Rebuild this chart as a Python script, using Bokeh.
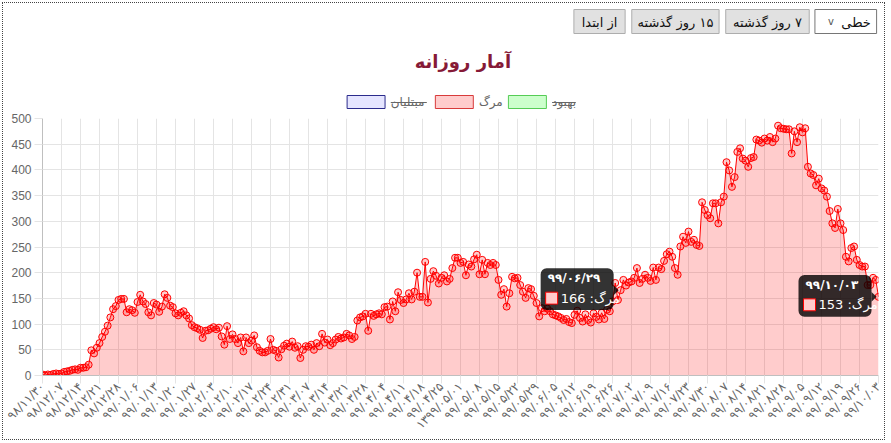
import math
from bokeh.plotting import figure
from bokeh.layouts import column
from bokeh.models import Range1d, FixedTicker, SingleIntervalTicker
from bokeh.core.properties import value
from bokeh.embed import file_html
from bokeh.resources import INLINE

# ---------------- data ----------------
deaths = [
    2, 0, 2, 1, 3, 4, 3, 4, 7, 8, 9, 11, 12, 11, 15, 15, 16, 21,
    49, 43, 54, 63, 75, 85, 97, 113, 129, 135, 147, 149, 149, 123, 129, 127,
    122, 143, 157, 144, 139, 123, 117, 141, 138, 124, 134, 158,
    151, 136, 133, 121, 117, 122, 125, 117, 111, 98, 94, 92, 89, 73, 87, 88,
    91, 94, 90, 93, 76, 60, 96, 71, 80, 71, 63, 74, 47, 74, 63, 68, 78, 55,
    48, 45, 45, 48, 71, 50, 48,
    35, 51, 58, 62, 56, 66, 54, 57, 34, 50, 57, 56, 60, 50, 63, 57, 81, 64,
    70, 59, 63, 70, 75, 72, 74,
    81, 78, 71, 75, 107, 113, 115, 120, 87, 120, 116, 119, 121, 119, 133, 134,
    109, 144, 125, 162, 147, 141, 148, 160, 148, 163, 200, 153, 153, 221,
    142, 188, 203, 194, 179, 190, 195, 183, 188, 209, 229, 229, 219, 221, 195,
    216, 212, 226, 235, 197, 225, 197, 219, 215, 219, 215, 186, 157, 168,
    134, 160, 192, 189, 190, 176, 163, 151, 170, 168, 155, 141, 115, 131, 125,
    130, 125, 119, 117, 115, 112, 108, 110, 104, 102,
    118, 126, 112, 105, 119, 108, 103, 121, 114, 109, 122, 110, 128, 125, 144,
    180, 147, 166,
    186, 175, 181, 183, 190, 209, 180, 188, 196, 190, 184, 210, 186, 210, 207,
    223, 236, 241, 231, 209, 196, 251,
    270, 258, 280, 260, 264, 254, 252, 337, 322, 312, 306, 335, 335, 296, 337,
    348, 415, 399, 367, 386, 435, 442, 422, 418, 406, 423, 425, 459, 457, 453,
    461, 457, 464, 454, 461, 486, 481, 480, 479, 479, 432, 475, 454, 483, 473,
    481, 406, 393, 390, 370, 383, 364, 360, 348, 320, 296, 287, 324, 296, 283,
    231, 222, 248, 251, 225, 215, 212, 212, 176, 176, 190, 186, 153,
]

tick_labels = [
    "۹۸/۱۱/۳۰", "۹۸/۱۲/۰۷", "۹۸/۱۲/۱۴", "۹۸/۱۲/۲۱", "۹۸/۱۲/۲۸",
    "۹۹/۰۱/۰۶", "۹۹/۰۱/۱۳", "۹۹/۰۱/۲۰", "۹۹/۰۱/۲۷", "۹۹/۰۲/۰۳",
    "۹۹/۰۲/۱۰", "۹۹/۰۲/۱۷", "۹۹/۰۲/۲۴", "۹۹/۰۲/۳۱", "۹۹/۰۳/۰۷",
    "۹۹/۰۳/۱۴", "۹۹/۰۳/۲۱", "۹۹/۰۳/۲۸", "۹۹/۰۴/۰۴", "۹۹/۰۴/۱۱",
    "۹۹/۰۴/۱۸", "۹۹/۰۴/۲۵", "۱۳۹۹/۰۵/۰۱", "۹۹/۰۵/۰۸", "۹۹/۰۵/۱۵",
    "۹۹/۰۵/۲۲", "۹۹/۰۵/۲۹", "۹۹/۰۶/۰۵", "۹۹/۰۶/۱۲", "۹۹/۰۶/۱۹",
    "۹۹/۰۶/۲۶", "۹۹/۰۷/۰۲", "۹۹/۰۷/۰۹", "۹۹/۰۷/۱۶", "۹۹/۰۷/۲۳",
    "۹۹/۰۷/۳۰", "۹۹/۰۸/۰۷", "۹۹/۰۸/۱۴", "۹۹/۰۸/۲۱", "۹۹/۰۸/۲۸",
    "۹۹/۰۹/۰۵", "۹۹/۰۹/۱۲", "۹۹/۰۹/۱۹", "۹۹/۰۹/۲۶", "۹۹/۱۰/۰۳",
]
tick_step = 7

tooltip_index = [213, 308]
tooltip_title = ["۹۹/۰۶/۲۹", "۹۹/۱۰/۰۳"]

title_text = "آمار روزانه"
series_name = "مرگ"
legend_names = ["مبتلیان", "مرگ", "بهبود"]
legend_hidden = [True, False, True]
legend_fill = ["#e5e5ff", "#ffcccc", "#ccffcc"]
legend_line = ["#2b2b8c", "#d83a3a", "#55cc55"]
RLM = "\u200f"
button_texts = ["از ابتدا", RLM + "۱۵ روز گذشته", RLM + "۷ روز گذشته"]
select_text = "خطی"

FA = "DejaVu Sans"
OX = 3          # content origin inside the dotted frame
W = 881
HH = 107
CH = 329
Y_MAX = 500

# ---------------- header (page-pixel space) ----------------
hdr = figure(width=W, height=HH, x_range=Range1d(OX, OX + W),
             y_range=Range1d(OX + HH, OX),
             x_axis_location=None, y_axis_location=None, toolbar_location=None,
             output_backend="svg", min_border=0)
hdr.grid.visible = False
hdr.outline_line_color = None

btn_left = [563, 624, 723]
btn_right = [617, 716, 811]
hdr.quad(left=btn_left, right=btn_right, top=[9] * 3, bottom=[33] * 3,
         fill_color="#e1e1e1", line_color="#adadad", line_width=1)
hdr.text(x=[(a + b) / 2 for a, b in zip(btn_left, btn_right)], y=[21.5] * 3,
         text=button_texts, text_align="center", text_baseline="middle",
         text_font=value(FA), text_font_size="13px", text_color="#111111")
hdr.quad(left=[817], right=[882], top=[9], bottom=[33],
         fill_color="white", line_color="#767676", line_width=1)
hdr.text(x=[876], y=[21.5], text=[select_text], text_align="right",
         text_baseline="middle", text_font=value(FA), text_font_size="13px",
         text_color="#111111")
hdr.text(x=[834], y=[20.5], text=["v"], text_align="center",
         text_baseline="middle", text_font=value(FA), text_font_size="10px",
         text_color="#555555")

hdr.text(x=[446], y=[61], text=[title_text], text_align="center",
         text_baseline="middle", text_font=value(FA), text_font_style="bold",
         text_font_size="18px", text_color="#861a37")

box_l = [324, 417, 494]
hdr.quad(left=box_l, right=[b + 40 for b in box_l], top=[95] * 3, bottom=[108] * 3,
         fill_color=legend_fill, line_color=legend_line, line_width=1)
hdr.text(x=[b + 46 for b in box_l], y=[101.5] * 3, text=legend_names,
         text_align="left", text_baseline="middle", text_font=value(FA),
         text_font_size="12px", text_color="#666666")
strike_w = [38, 16, 25]
sx0 = [b + 46 for b, h in zip(box_l, legend_hidden) if h]
sx1 = [b + 46 + w for b, w, h in zip(box_l, strike_w, legend_hidden) if h]
hdr.segment(x0=sx0, x1=sx1, y0=[102] * len(sx0), y1=[102] * len(sx0),
            line_color="#666666", line_width=1)

# ---------------- chart ----------------
FW, FH = 836, 258
LEFT = 42 - OX
TOP = 118 - OX - HH
idx = list(range(len(deaths)))
p = figure(width=W, height=CH, x_range=Range1d(0, len(deaths) - 1),
           y_range=Range1d(0, Y_MAX), toolbar_location=None, output_backend="svg",
           min_border_left=LEFT, min_border_right=W - LEFT - FW, min_border_top=TOP,
           min_border_bottom=CH - TOP - FH)
p.outline_line_color = None
p.extra_x_ranges = {"px": Range1d(0, FW)}
p.extra_y_ranges = {"px": Range1d(0, FH)}

ticks = [tick_step * i for i in range(len(tick_labels))]
p.xaxis.ticker = FixedTicker(ticks=ticks)
p.xaxis.major_label_overrides = {t: lab for t, lab in zip(ticks, tick_labels)}
p.xaxis.major_label_orientation = math.pi / 4
p.xaxis.major_label_text_font = FA
p.xaxis.major_label_text_font_size = "12px"
p.xaxis.major_label_text_color = "#666666"
p.xaxis.major_label_standoff = 1

p.yaxis.ticker = SingleIntervalTicker(interval=50, num_minor_ticks=0)
p.yaxis.major_label_text_font = "Liberation Sans"
p.yaxis.major_label_text_font_size = "12px"
p.yaxis.major_label_text_color = "#666666"
p.yaxis.major_label_standoff = 3

for ax in (p.xaxis, p.yaxis):
    ax.major_tick_out = 8
    ax.major_tick_in = 0
    ax.major_tick_line_color = "#e4e4e4"
    ax.minor_tick_line_color = None
    ax.axis_line_color = "#bfbfbf"

p.xgrid.grid_line_color = "#e4e4e4"
p.ygrid.grid_line_color = "#e4e4e4"

p.varea(x=idx, y1=0, y2=deaths, fill_color="red", fill_alpha=0.2)
p.line(idx, deaths, line_color="red", line_width=1)
p.scatter(idx, deaths, size=7, line_color="red", fill_color="red",
          fill_alpha=0.2, line_width=1)

for i, ttl in zip(tooltip_index, tooltip_title):
    v = deaths[i]
    X = i / (len(deaths) - 1) * FW
    Y = v / Y_MAX * FH
    kw = dict(x_range_name="px", y_range_name="px")
    p.quad(left=[X - 80], right=[X - 7], top=[Y + 22], bottom=[Y - 20],
           fill_color="black", fill_alpha=0.8, line_color=None,
           border_radius=6, **kw)
    p.patch(x=[X - 7, X - 2, X - 7], y=[Y + 5, Y, Y - 5], fill_color="black",
            fill_alpha=0.8, line_color=None, **kw)
    p.text(x=[X - 73], y=[Y + 12], text=[ttl], text_align="left",
           text_baseline="middle", text_font=value(FA), text_font_style="bold",
           text_font_size="12px", text_color="white", **kw)
    p.quad(left=[X - 75], right=[X - 63], top=[Y - 2], bottom=[Y - 14],
           fill_color="#ffcccc", line_color="red", line_width=1, **kw)
    p.text(x=[X - 60], y=[Y - 8], text=[f"{series_name}: {v}"], text_align="left",
           text_baseline="middle", text_font=value(FA), text_font_size="13px",
           text_color="white", **kw)

layout = column(hdr, p, spacing=0, margin=(OX - 1, 0, 0, OX - 1),
                styles={"border": "1px dotted #444444"})

open("out.html", "w").write(file_html(layout, INLINE))
